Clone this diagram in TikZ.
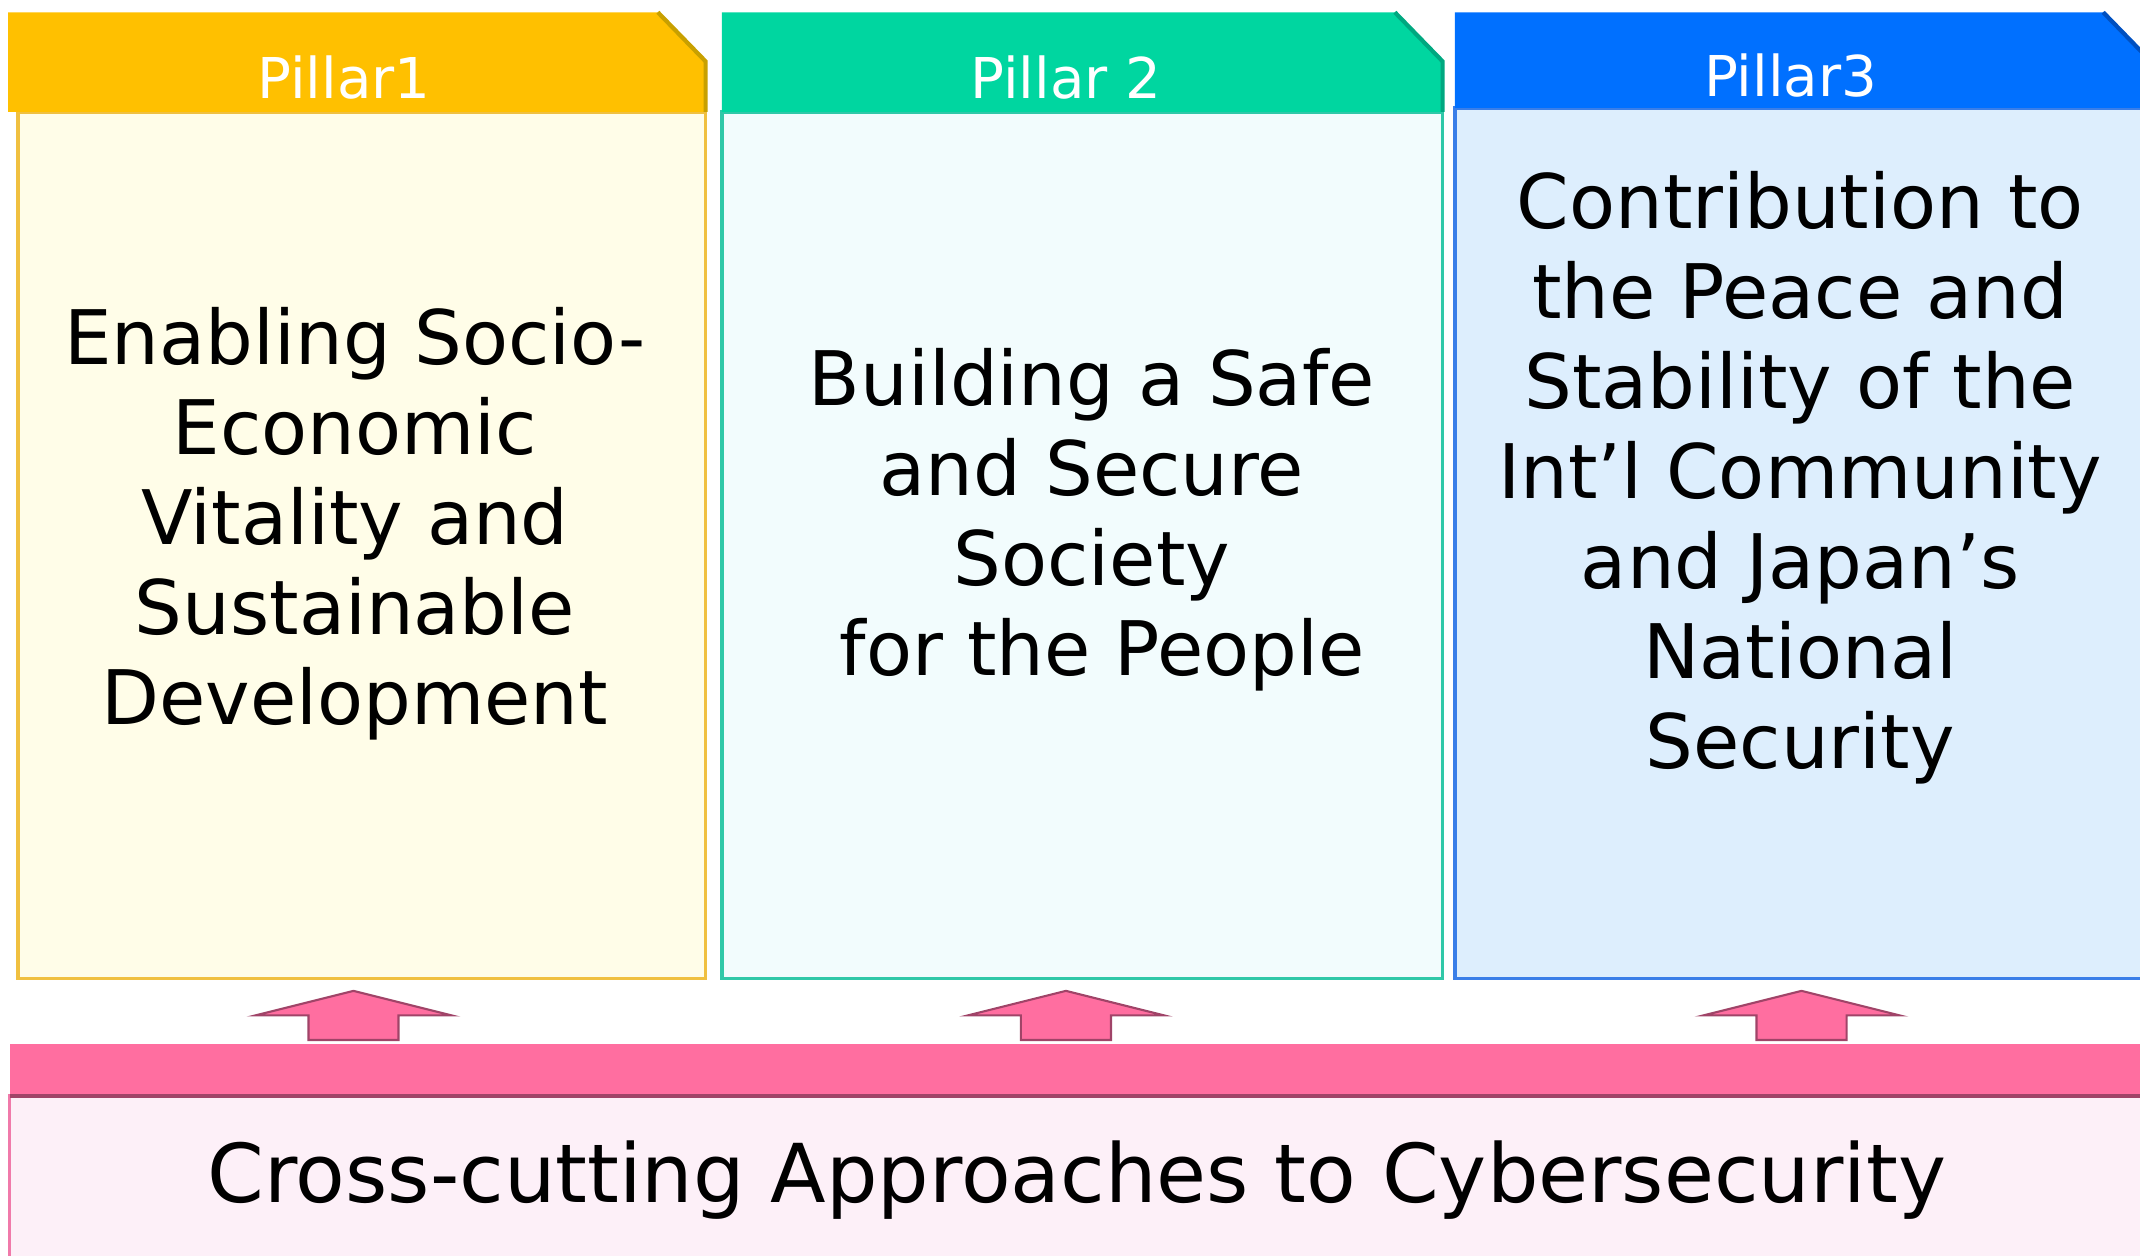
\documentclass[tikz,border=0pt]{standalone}
\usepackage{fontspec}
\setmainfont{DejaVu Sans}
\definecolor{yelA}{HTML}{FFC000}
\definecolor{yelB}{HTML}{FFFDE8}
\definecolor{yelD}{HTML}{F0C040}
\definecolor{yelE}{HTML}{C8A000}
\definecolor{grnA}{HTML}{00D6A0}
\definecolor{grnB}{HTML}{F2FCFD}
\definecolor{grnD}{HTML}{30C8A8}
\definecolor{grnE}{HTML}{00A880}
\definecolor{bluA}{HTML}{0070FF}
\definecolor{bluB}{HTML}{DDEEFD}
\definecolor{bluD}{HTML}{3A7EE8}
\definecolor{bluE}{HTML}{0050C0}
\definecolor{pnkA}{HTML}{FF6EA0}
\definecolor{pnkB}{HTML}{FDF0F8}
\definecolor{pnkD}{HTML}{A04468}
\definecolor{pnkE}{HTML}{F07AAA}

\begin{document}
\begin{tikzpicture}
  [x=0.013648cm, y=-0.013648cm,
   body/.style={line width=1pt},
   edge/.style={line width=1.2pt},
   hd/.style={text=white,
              inner sep=0,
              font=\fontsize{16}{19}\selectfont},
   txt/.style={align=center,
               inner sep=0,
               font=\fontsize{21.4}{25.6}\selectfont},
   up/.style={fill=pnkA,
              draw=pnkD,
              line width=0.6pt}]
  \useasboundingbox (0,0) rectangle (1568,920);
  \clip (0,0) rectangle (1568,920);

  % Pillar 1
  \draw[body,fill=yelB,draw=yelD] (13,82) rectangle (517,717);
  \fill[yelA] (6,9) -- (482,9) -- (517,45) -- (517,82) -- (6,82) -- cycle;
  \draw[edge,yelE] (482,9) -- (517,45) -- (517,82);
  \node[hd] (h1) at (252,57) {Pillar1};
  \node[txt] (p1) at (260,384) {Enabling Socio-\\Economic\\Vitality and\\Sustainable\\Development};

  % Pillar 2
  \draw[body,fill=grnB,draw=grnD] (529,82) rectangle (1057,717);
  \fill[grnA] (529,9) -- (1022,9) -- (1057,45) -- (1057,82) -- (529,82) -- cycle;
  \draw[edge,grnE] (1022,9) -- (1057,45) -- (1057,82);
  \node[hd] (h2) at (781,57) {Pillar 2};
  \node[txt] (p2) at (800,381) {Building a Safe\\and Secure\\Society\\\hspace*{6pt}for the People};

  % Pillar 3
  \draw[body,fill=bluB,draw=bluD] (1066,79) rectangle (1600,717);
  \fill[bluA] (1066,9) -- (1541,9) -- (1576,45) -- (1576,79) -- (1066,79) -- cycle;
  \draw[edge,bluE] (1541,9) -- (1576,45);
  \node[hd] (h3) at (1312,55) {Pillar3};
  \node[txt] (p3) at (1319,350) {Contribution to\\the Peace and\\Stability of the\\Int’l Community\\and Japan’s\\National\\Security};

  % arrows
  \foreach \x in {259,781,1320}
    \draw[up] (\x,726) -- ++(72,18) -- ++(-39,0) -- ++(0,18)
              -- ++(-66,0) -- ++(0,-18) -- ++(-39,0) -- cycle;

  % base
  \draw[body,fill=pnkB,draw=pnkE] (7,803) rectangle (1600,960);
  \fill[pnkA] (7,765) rectangle (1600,803);
  \draw[edge,pnkD] (7,803) -- (1600,803);
  \node[inner sep=0,font=\fontsize{23.1}{28}\selectfont] (cc) at (789,865)
    {Cross-cutting Approaches to Cybersecurity};
\end{tikzpicture}
\end{document}
